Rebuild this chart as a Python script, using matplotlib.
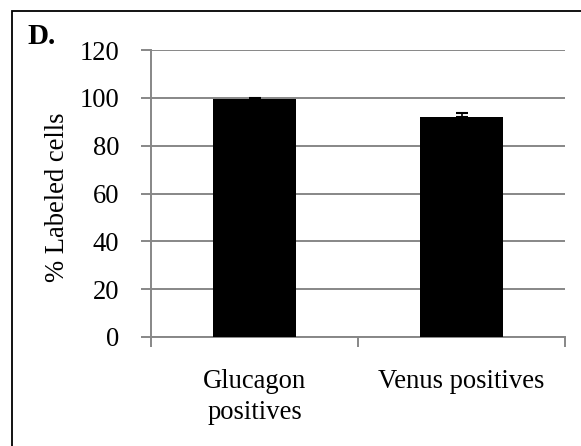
import matplotlib
matplotlib.use("Agg")
import matplotlib.pyplot as plt
from matplotlib.patches import Rectangle

categories = ["Glucagon\npositives", "Venus positives"]
values = [99.6, 91.8]
errors = [0.3, 1.9]
yticks = [0, 20, 40, 60, 80, 100, 120]
panel_label = "D."
ylabel = "% Labeled cells"

W, H = 581, 446
fig = plt.figure(figsize=(W / 100, H / 100), dpi=100)
plt.rcParams['font.family'] = ['Liberation Serif', 'DejaVu Serif']

left, right, top, bottom = 151, 565, 50, 337
ax = fig.add_axes([left / W, 1 - bottom / H, (right - left) / W, (bottom - top) / H])

x = list(range(len(categories)))
ax.bar(x, values, width=0.405, color='black', zorder=3)
ax.errorbar(x, values, yerr=[[0] * len(errors), errors], fmt='none', ecolor='black',
            elinewidth=1.2, capsize=4, capthick=1.5, zorder=4)

ax.set_xlim(-0.5, len(categories) - 0.5)
ax.set_ylim(0, 120)
ax.set_yticks(yticks)
ax.set_yticklabels([str(t) for t in yticks], fontsize=19.2)
ax.yaxis.grid(True, color='#878787', linewidth=1.4, zorder=0)
ax.set_axisbelow(True)

for s in ['top', 'right']:
    ax.spines[s].set_visible(False)
for s in ['left', 'bottom']:
    ax.spines[s].set_color('#878787')
    ax.spines[s].set_linewidth(1.4)

ax.tick_params(axis='y', length=7, width=1.4, color='#878787', pad=16)
ax.set_xticks([-0.5, 0.5, 1.5], minor=False)
ax.set_xticklabels([])
ax.tick_params(axis='x', length=7, width=1.4, color='#878787', direction='out')
for i, c in enumerate(categories):
    ax.text(i, -13.3, c, ha='center', va='top', fontsize=19.2, linespacing=1.3,
            transform=ax.transData, clip_on=False)

fig.text(57 / W, 1 - 197 / H, ylabel, rotation=90, ha='center', va='center', fontsize=19.2)
fig.text(27 / W, 1 - 36 / H, panel_label, ha='left', va='center', fontsize=21, fontweight='bold')

fig.patches.append(Rectangle((11.5 / W, -0.1), 1.2, 1 - 10.5 / H + 0.1, transform=fig.transFigure,
                             fill=False, edgecolor='black', linewidth=1.3))

fig.savefig("out.png", dpi=100)
